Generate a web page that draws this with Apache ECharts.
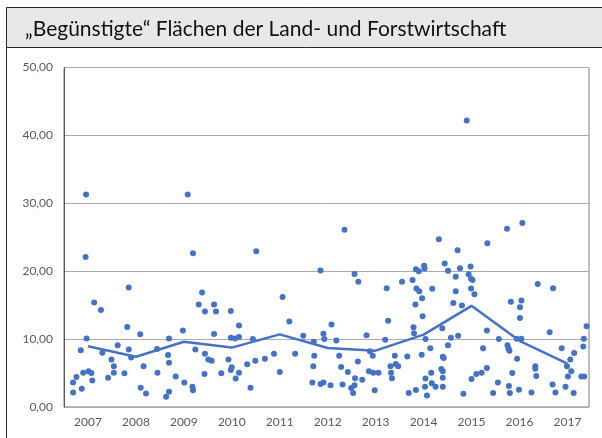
<!DOCTYPE html>
<html>
<head>
<meta charset="UTF-8">
<title>Begünstigte Flächen</title>
<script src="https://cdn.jsdelivr.net/npm/echarts@6/dist/echarts.min.js"></script>
<style>
  body { margin: 0; padding: 0; background: #fff; }
  #chart { width: 602px; height: 438px; }
</style>
</head>
<body>
<div id="chart"></div>
<script>
// Einzelwerte (x = Jahr als Dezimalzahl, y = Wert)
var pointYears = [
  2006.69, 2006.69, 2006.76, 2006.85, 2006.87, 2006.90, 2006.95, 2006.96, 2006.97, 2007.01,
  2007.07, 2007.09, 2007.13, 2007.27, 2007.30, 2007.42, 2007.49, 2007.54, 2007.54, 2007.62,
  2007.76, 2007.82, 2007.85, 2007.85, 2007.90, 2008.09, 2008.10, 2008.16, 2008.21, 2008.44,
  2008.45, 2008.63, 2008.67, 2008.69, 2008.69, 2008.69, 2008.83, 2008.98, 2009.01, 2009.08,
  2009.18, 2009.19, 2009.19, 2009.24, 2009.31, 2009.38, 2009.43, 2009.44, 2009.44, 2009.51,
  2009.58, 2009.63, 2009.63, 2009.67, 2009.78, 2009.93, 2009.98, 2009.98, 2009.98, 2010.00,
  2010.07, 2010.08, 2010.15, 2010.15, 2010.15, 2010.32, 2010.39, 2010.44, 2010.49, 2010.51,
  2010.69, 2010.88, 2011.00, 2011.06, 2011.20, 2011.32, 2011.49, 2011.68, 2011.70, 2011.71,
  2011.72, 2011.85, 2011.85, 2011.91, 2011.91, 2011.93, 2012.06, 2012.08, 2012.18, 2012.24,
  2012.28, 2012.31, 2012.35, 2012.42, 2012.49, 2012.53, 2012.56, 2012.56, 2012.57, 2012.63,
  2012.64, 2012.72, 2012.81, 2012.86, 2012.88, 2012.94, 2012.95, 2012.98, 2013.06, 2013.20,
  2013.23, 2013.26, 2013.31, 2013.32, 2013.34, 2013.40, 2013.42, 2013.47, 2013.55, 2013.66,
  2013.69, 2013.77, 2013.79, 2013.80, 2013.83, 2013.84, 2013.84, 2013.85, 2013.90, 2013.91,
  2013.96, 2013.97, 2013.98, 2014.01, 2014.02, 2014.03, 2014.04, 2014.04, 2014.07, 2014.14,
  2014.16, 2014.17, 2014.18, 2014.25, 2014.32, 2014.37, 2014.39, 2014.40, 2014.40, 2014.40,
  2014.40, 2014.42, 2014.44, 2014.51, 2014.51, 2014.57, 2014.62, 2014.67, 2014.67, 2014.71,
  2014.72, 2014.76, 2014.80, 2014.83, 2014.90, 2014.94, 2014.98, 2014.99, 2015.02, 2014.99,
  2015.06, 2015.00, 2015.10, 2015.21, 2015.24, 2015.32, 2015.32, 2015.33, 2015.45, 2015.55,
  2015.57, 2015.74, 2015.75, 2015.77, 2015.79, 2015.78, 2015.80, 2015.82, 2015.85, 2015.94,
  2015.95, 2015.99, 2016.01, 2016.01, 2016.04, 2016.04, 2016.06, 2016.25, 2016.33, 2016.33,
  2016.35, 2016.38, 2016.63, 2016.69, 2016.70, 2016.75, 2016.88, 2016.96, 2016.99, 2017.01,
  2017.06, 2017.08, 2017.13, 2017.14, 2017.29, 2017.35, 2017.33, 2017.34, 2017.40
];
var pointValues = [
  3.6, 2.15, 4.4, 8.35, 2.7, 5.06, 22.1, 31.3, 10.1, 5.25,
  5.0, 3.9, 15.4, 14.3, 8.0, 4.3, 7.0, 6.0, 5.06, 9.1,
  4.96, 11.8, 17.6, 8.45, 7.3, 10.7, 2.85, 6.0, 2.0, 8.55,
  5.06, 1.5, 7.65, 6.5, 10.1, 2.25, 4.5, 11.25, 3.6, 31.3,
  3.0, 2.45, 22.65, 8.45, 15.1, 16.85, 4.85, 14.05, 7.85, 7.0,
  6.8, 15.1, 10.75, 14.05, 4.96, 7.0, 14.15, 10.2, 5.45, 5.85,
  10.1, 4.2, 12.0, 10.3, 5.06, 6.3, 2.85, 10.0, 6.8, 22.95,
  7.1, 7.85, 5.15, 16.2, 12.6, 7.85, 10.5, 3.6, 6.0, 9.6,
  7.55, 20.1, 3.4, 10.8, 3.6, 10.0, 3.2, 12.15, 9.8, 7.55,
  5.9, 3.33, 26.1, 5.15, 2.8, 2.06, 3.19, 19.6, 4.22, 6.7,
  18.45, 4.03, 10.55, 5.25, 8.2, 7.55, 5.06, 2.45, 5.06, 9.9,
  17.5, 12.7, 6.0, 5.06, 4.25, 7.55, 6.35, 6.0, 18.45, 7.45,
  2.06, 18.7, 11.75, 10.85, 15.1, 20.3, 2.5, 17.45, 20.0, 17.05,
  7.7, 16.0, 13.35, 20.8, 20.4, 3.0, 10.0, 4.2, 1.7, 8.65,
  5.06, 3.5, 17.4, 3.0, 24.7, 5.6, 11.6, 7.4, 5.25, 3.0,
  4.3, 7.2, 21.15, 20.05, 9.1, 10.2, 15.3, 19.2, 17.05, 23.1,
  10.5, 20.45, 14.95, 1.95, 42.2, 19.55, 20.7, 18.9, 18.7, 17.45,
  16.6, 4.13, 4.87, 5.06, 8.65, 11.25, 5.75, 24.1, 2.06, 3.6,
  10.0, 26.25, 9.1, 8.6, 8.3, 3.1, 2.06, 15.5, 5.0, 10.05,
  7.1, 2.55, 14.7, 13.1, 15.7, 10.05, 27.1, 2.15, 6.0, 5.65,
  4.57, 18.1, 11.0, 3.3, 17.5, 2.15, 8.65, 3.0, 6.0, 4.5,
  6.98, 5.25, 2.06, 7.95, 4.5, 4.5, 8.9, 10.05, 11.9
];

// Jahresdurchschnitt
var avgYears = [2007, 2008, 2009, 2010, 2011, 2012, 2013, 2014, 2015, 2016, 2017];
var avgValues = [8.95, 7.4, 9.6, 8.75, 10.7, 8.7, 8.3, 10.65, 14.9, 9.75, 6.4];

var yearLabels = [2007, 2008, 2009, 2010, 2011, 2012, 2013, 2014, 2015, 2016, 2017];

var points = pointYears.map(function (x, i) { return [x, pointValues[i]]; });
var avg = avgYears.map(function (x, i) { return [x, avgValues[i]]; });

var chart = echarts.init(document.getElementById('chart'));
var blue = '#4472C4';
var font = 'Lato, "Open Sans", sans-serif';

chart.setOption({
  animation: false,
  backgroundColor: '#fff',
  graphic: [
    // Titelbox
    { type: 'rect', shape: { x: 6.5, y: 7.5, width: 600, height: 40 },
      style: { fill: '#e8e8e8', stroke: '#262626', lineWidth: 1 }, z: -1 },
    { type: 'line', shape: { x1: 6.5, y1: 47.5, x2: 6.5, y2: 438 },
      style: { stroke: '#262626', lineWidth: 1 } }
  ],
  title: {
    text: '„Begünstigte“ Flächen der Land- und Forstwirtschaft',
    left: 20, top: 14,
    textStyle: { fontFamily: font, fontSize: 21, fontWeight: 'normal', color: '#111' }
  },
  grid: {
    left: 64, right: 13, top: 67.5, bottom: 31,
    show: true, borderColor: '#7f7f7f', borderWidth: 1
  },
  xAxis: {
    type: 'value',
    min: 2006.5, max: 2017.45,
    axisLine: { show: false },
    axisTick: { show: false },
    splitLine: { show: false },
    axisLabel: {
      customValues: yearLabels,
      color: '#595959', fontFamily: font, fontSize: 12, margin: 9,
      formatter: function (v) { return String(v); }
    }
  },
  yAxis: {
    type: 'value',
    min: 0, max: 50, interval: 10,
    axisLine: { show: true, lineStyle: { color: '#595959' } },
    axisTick: { show: false },
    splitLine: { lineStyle: { color: '#ababab', width: 1 } },
    axisLabel: {
      color: '#595959', fontFamily: font, fontSize: 12, margin: 11,
      formatter: function (v) { return v.toFixed(2).replace('.', ','); }
    }
  },
  series: [
    {
      type: 'scatter',
      data: points,
      symbolSize: 6,
      itemStyle: { color: blue, opacity: 1 }
    },
    {
      type: 'line',
      data: avg,
      symbol: 'none',
      lineStyle: { color: blue, width: 2.5 },
      z: 3
    }
  ]
});
</script>
</body>
</html>
